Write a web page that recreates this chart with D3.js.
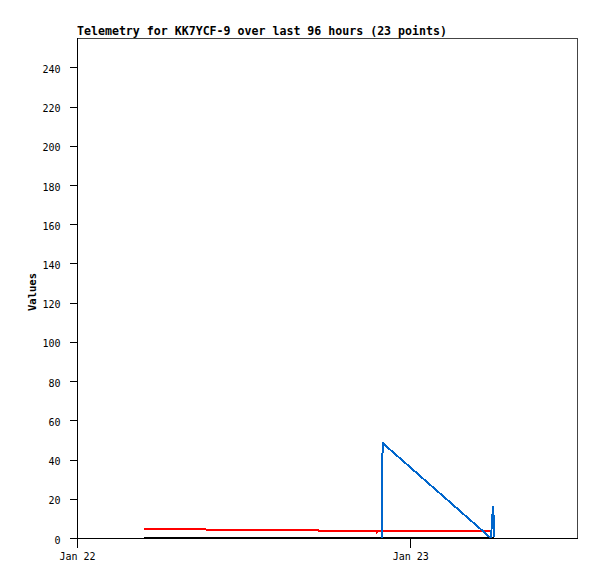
<!DOCTYPE html>
<html>
<head>
<meta charset="utf-8">
<script src="https://cdn.jsdelivr.net/npm/d3@7"></script>
<style>
  body { margin: 0; background: #fff; }
  svg { display: block; }
</style>
</head>
<body>
<svg id="chart" width="597" height="579"></svg>
<script>
// ---- data (hours after Jan 22 00:00) ----
const titleText = "Telemetry for KK7YCF-9 over last 96 hours (23 points)";
const yLabel = "Values";
const yTicks = [0, 20, 40, 60, 80, 100, 120, 140, 160, 180, 200, 220, 240];
const xTickLabels = ["Jan 22", "Jan 23"];
const xTickHours = [0, 24];

const blackHours = [4.82, 17.4, 30.05];
const blackValues = [0.2, 0.2, 0.2];

const redHours = [4.82, 9.2, 9.3, 17.3, 17.4, 21.52, 21.58, 21.64, 29.81];
const redValues = [4.75, 4.75, 4.25, 4.25, 3.75, 3.75, 2.8, 3.75, 3.75];

const blueHours = [21.93, 21.95, 22.01, 29.74, 29.81, 29.88, 29.95, 30.02, 30.06];
const blueValues = [0, 24.5, 48.4, 0.3, 0.3, 8.2, 16.3, 8.2, 0.3];

// ---- layout ----
const base = new Date(2000, 0, 22, 0, 0, 0);
const toDate = h => new Date(base.getTime() + h * 3600000);
const mLeft = 77, mRight = 577, mTop = 38, mBottom = 538;

const svg = d3.select("#chart");
const x = d3.scaleTime().domain([toDate(0), toDate(36)]).range([mLeft, mRight]);
const y = d3.scaleLinear().domain([0, 255]).range([mBottom, mTop]);

// frame (top/right gray)
svg.append("path")
  .attr("d", `M${mLeft},${mTop + 0.5}H${mRight + 0.5}V${mBottom}`)
  .attr("fill", "none").attr("stroke", "#444").attr("stroke-width", 1)
  .attr("shape-rendering", "crispEdges");

// y axis
const yAxis = d3.axisLeft(y).tickValues(yTicks).tickSize(8).tickPadding(9);
const gy = svg.append("g").attr("transform", `translate(${mLeft + 0.5},0)`).call(yAxis);
gy.select(".domain").attr("d", `M0,${mTop}V${mBottom + 0.5}`).attr("stroke", "#000").attr("shape-rendering", "crispEdges");
gy.selectAll(".tick line").attr("stroke", "#000").attr("shape-rendering", "crispEdges");
gy.selectAll(".tick text")
  .attr("font-family", "'DejaVu Sans Mono', monospace").attr("font-size", 10)
  .attr("fill", "#000").attr("dy", null).attr("y", 5);

// x axis
const xAxis = d3.axisBottom(x).tickValues(xTickHours.map(toDate))
  .tickFormat((d, i) => xTickLabels[i]).tickSize(9).tickPadding(12);
const gx = svg.append("g").attr("transform", `translate(0,${mBottom + 0.5})`).call(xAxis);
gx.select(".domain").attr("d", `M${mLeft},0H${mRight + 0.5}`).attr("stroke", "#000").attr("shape-rendering", "crispEdges");
gx.selectAll(".tick line").attr("stroke", "#000").attr("shape-rendering", "crispEdges");
gx.selectAll(".tick text")
  .attr("font-family", "'DejaVu Sans Mono', monospace").attr("font-size", 10)
  .attr("fill", "#000").attr("dy", null).attr("y", 21);

// title
svg.append("text").attr("x", mLeft).attr("y", 35)
  .attr("font-family", "'DejaVu Sans Mono', monospace").attr("font-weight", "bold")
  .attr("font-size", 11.6).attr("fill", "#000").text(titleText);

// y label
svg.append("text").attr("transform", "translate(36,292) rotate(-90)")
  .attr("text-anchor", "middle")
  .attr("font-family", "'DejaVu Sans Mono', monospace").attr("font-weight", "bold")
  .attr("font-size", 10.5).attr("fill", "#000").text(yLabel);

// series
const line = d3.line().x(d => x(toDate(d[0]))).y(d => y(d[1]));
const series = [
  { hours: blackHours, values: blackValues, color: "#000000" },
  { hours: redHours, values: redValues, color: "#ff0000" },
  { hours: blueHours, values: blueValues, color: "#0066cc" }
];
series.forEach(s => {
  svg.append("path")
    .datum(s.hours.map((h, i) => [h, s.values[i]]))
    .attr("d", line)
    .attr("fill", "none").attr("stroke", s.color).attr("stroke-width", 2)
    .attr("shape-rendering", "crispEdges");
});
</script>
</body>
</html>
